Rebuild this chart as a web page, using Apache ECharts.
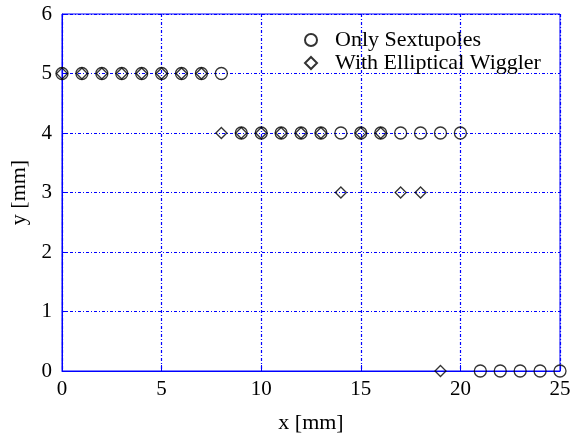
<!DOCTYPE html>
<html><head><meta charset="utf-8">
<script src="https://cdn.jsdelivr.net/npm/echarts@6/dist/echarts.min.js"></script>
<style>html,body{margin:0;padding:0;background:#fff}#c{width:576px;height:439px}</style>
</head><body><div id="c"></div>
<script>
const sextX = [0,1,2,3,4,5,6,7,8,9,10,11,12,13,14,15,16,17,18,19,20,21,22,23,24,25];
const sextY = [5,5,5,5,5,5,5,5,5,4,4,4,4,4,4,4,4,4,4,4,4,0,0,0,0,0];
const wigX = [0,1,2,3,4,5,6,7,8,9,10,11,12,13,14,15,16,17,18,19];
const wigY = [5,5,5,5,5,5,5,5,4,4,4,4,4,4,3,4,4,3,3,0];
const seriesNames = ['Only Sextupoles','With Elliptical Wiggler'];
const xTicks = [0,5,10,15,20,25];
const yTicks = [0,1,2,3,4,5,6];

const font = 'Liberation Serif, Times New Roman, serif';
const blue = '#0000ff';
const dash = [3,2,1,2];
const pair = (xs, ys) => xs.map((x,i)=>[x, ys[i]]);

function axis(name, ticks, gap, margin) {
  return {
    type:'value', min: ticks[0], max: ticks[ticks.length-1], interval: ticks[1]-ticks[0],
    name, nameLocation:'middle', nameGap: gap,
    nameTextStyle:{fontFamily:font, fontSize:22, color:'#000'},
    axisLine:{show:true, lineStyle:{color:blue, width:1}},
    axisTick:{show:true, inside:true, length:6, lineStyle:{color:blue}},
    axisLabel:{fontFamily:font, fontSize:21, color:'#000', margin:margin},
    splitLine:{show:true, lineStyle:{color:blue, type:dash, width:1.2}}
  };
}

const chart = echarts.init(document.getElementById('c'));
chart.setOption({
  animation:false,
  backgroundColor:'#fff',
  grid:{left:62, right:16, top:14, bottom:67, show:true, borderColor:blue, borderWidth:1, backgroundColor:'transparent'},
  xAxis: axis('x [mm]', xTicks, 41, 8),
  yAxis: axis('y [mm]', yTicks, 31, 10),
  legend:{
    orient:'vertical', left:299, top:24, padding:5, itemGap:1, itemWidth:12, itemHeight:12,
    textStyle:{fontFamily:font, fontSize:22, lineHeight:20, color:'#000', padding:[0,0,0,13]},
    data: seriesNames
  },
  series:[
    {name:seriesNames[0], type:'scatter', symbol:'circle', symbolSize:12, clip:false,
     itemStyle:{color:'rgba(0,0,0,0)', borderColor:'#000', borderWidth:1.3},
     data: pair(sextX, sextY)},
    {name:seriesNames[1], type:'scatter', symbol:'diamond', symbolSize:11, clip:false,
     itemStyle:{color:'rgba(0,0,0,0)', borderColor:'#000', borderWidth:1.3},
     data: pair(wigX, wigY)}
  ]
});
</script></body></html>
